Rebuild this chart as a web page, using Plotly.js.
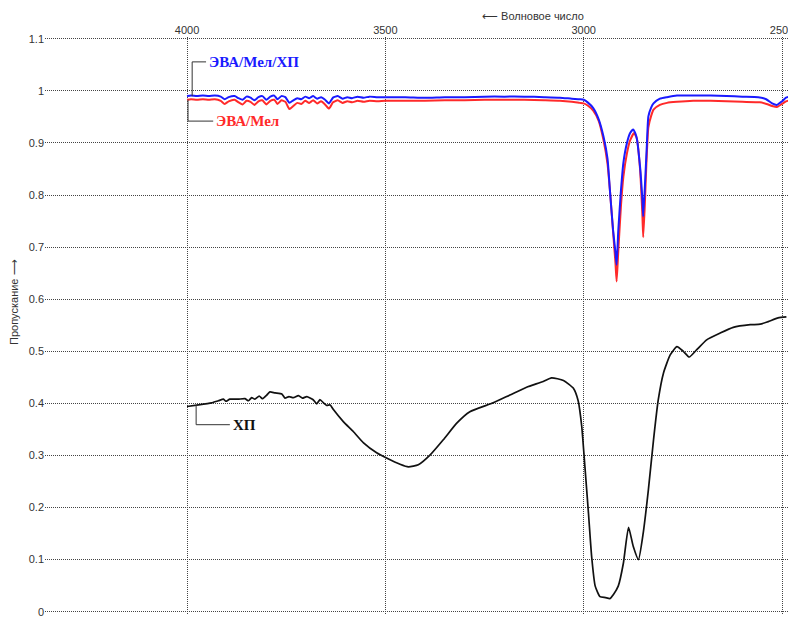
<!DOCTYPE html>
<html>
<head>
<meta charset="utf-8">
<script src="https://cdn.plot.ly/plotly-3.0.1.min.js"></script>
<style>html,body{margin:0;padding:0;background:#fff;overflow:hidden;}#chart{width:788px;height:617px;}</style>
</head>
<body>
<div id="chart"></div>
<script>
// ЭВА/Мел/ХП (blue)
const wnBlue = [4000,3990,3975,3960,3945,3930,3915,3905,3895,3880,3870,3860,3850,3840,3830,3820,3810,3800,3790,3780,3772,3762,3752,3742,3732,3722,3712,3702,3692,3682,3672,3662,3652,3642,3632,3620,3608,3596,3584,3570,3555,3540,3520,3500,3450,3400,3350,3300,3250,3200,3150,3100,3060,3030,3010,3000,2990,2976,2962,2950,2940,2934,2926,2920,2917,2913,2906,2900,2891,2883,2875,2867,2858,2852,2850,2845,2841,2837,2830,2824,2808,2790,2765,2720,2680,2640,2600,2560,2540,2525,2513,2500,2490,2481];
const tBlue  = [0.990,0.991,0.990,0.991,0.990,0.991,0.989,0.984,0.988,0.990,0.986,0.983,0.989,0.987,0.982,0.988,0.990,0.983,0.989,0.991,0.984,0.990,0.988,0.977,0.982,0.986,0.984,0.989,0.986,0.990,0.985,0.988,0.983,0.976,0.987,0.990,0.985,0.988,0.986,0.989,0.987,0.989,0.988,0.988,0.988,0.987,0.988,0.988,0.989,0.989,0.989,0.988,0.987,0.985,0.984,0.983,0.978,0.967,0.945,0.912,0.870,0.810,0.733,0.690,0.666,0.730,0.810,0.862,0.900,0.919,0.926,0.912,0.855,0.790,0.759,0.829,0.893,0.951,0.968,0.976,0.985,0.988,0.991,0.991,0.991,0.990,0.989,0.988,0.984,0.976,0.973,0.980,0.987,0.989];

// ЭВА/Мел (red)
const wnRed = [4000,3990,3975,3960,3945,3930,3915,3905,3895,3880,3870,3860,3850,3840,3830,3820,3810,3800,3790,3780,3772,3762,3752,3742,3732,3722,3712,3702,3692,3682,3672,3662,3652,3642,3632,3620,3608,3596,3584,3570,3555,3540,3520,3500,3450,3400,3350,3300,3250,3200,3150,3100,3060,3030,3010,3000,2990,2976,2962,2950,2940,2934,2926,2920,2917,2913,2906,2900,2891,2883,2873,2866,2858,2852,2850,2846,2842,2837,2830,2824,2808,2790,2765,2724,2680,2640,2600,2556,2539,2525,2513,2500,2490,2481];
const tRed   = [0.983,0.984,0.983,0.984,0.983,0.984,0.981,0.975,0.980,0.983,0.978,0.974,0.981,0.979,0.973,0.980,0.982,0.974,0.981,0.983,0.975,0.982,0.979,0.965,0.971,0.977,0.975,0.981,0.977,0.982,0.976,0.980,0.974,0.966,0.978,0.982,0.977,0.980,0.978,0.981,0.979,0.981,0.980,0.981,0.981,0.981,0.982,0.982,0.983,0.983,0.983,0.982,0.981,0.979,0.977,0.976,0.972,0.962,0.942,0.905,0.860,0.810,0.730,0.670,0.634,0.690,0.780,0.835,0.880,0.905,0.919,0.908,0.850,0.760,0.719,0.780,0.860,0.930,0.952,0.964,0.973,0.977,0.979,0.981,0.981,0.980,0.979,0.978,0.975,0.971,0.969,0.975,0.980,0.982];

// ХП (black)
const wnCP = [4000,3971,3938,3921,3908,3902,3892,3871,3854,3845,3837,3829,3818,3810,3799,3791,3778,3761,3753,3743,3732,3719,3709,3698,3682,3673,3665,3656,3648,3639,3631,3606,3581,3555,3522,3497,3463,3442,3417,3387,3354,3320,3287,3228,3186,3144,3102,3081,3051,3026,3014,3005,2997,2988,2980,2971,2959,2945,2934,2925,2913,2900,2887,2875,2862,2850,2837,2824,2812,2799,2782,2765,2749,2734,2715,2690,2656,2623,2580,2555,2535,2510,2489];
const tCP  = [0.394,0.397,0.401,0.405,0.408,0.404,0.408,0.408,0.409,0.405,0.411,0.408,0.414,0.409,0.416,0.422,0.420,0.418,0.410,0.413,0.411,0.415,0.410,0.413,0.407,0.399,0.407,0.401,0.396,0.397,0.388,0.365,0.346,0.324,0.305,0.295,0.283,0.278,0.282,0.301,0.330,0.362,0.384,0.401,0.416,0.431,0.442,0.449,0.444,0.429,0.405,0.356,0.279,0.189,0.106,0.049,0.029,0.027,0.025,0.033,0.049,0.093,0.162,0.125,0.100,0.151,0.234,0.330,0.407,0.458,0.493,0.509,0.500,0.489,0.503,0.522,0.535,0.546,0.551,0.552,0.557,0.564,0.566];

const xTicks = [4000,3500,3000,2500];
const yTicks = [0,0.1,0.2,0.3,0.4,0.5,0.6,0.7,0.8,0.9,1,1.1];

const traces = [
  {x: wnCP, y: tCP, mode:'lines', line:{color:'#111111', width:1.7, shape:'spline', smoothing:0.5}, hoverinfo:'skip'},
  {x: wnRed, y: tRed, mode:'lines', line:{color:'#ff2a2a', width:2, shape:'spline', smoothing:0.5}, hoverinfo:'skip'},
  {x: wnBlue, y: tBlue, mode:'lines', line:{color:'#1a1aff', width:2, shape:'spline', smoothing:0.5}, hoverinfo:'skip'}
];

const lead = {type:'path', xref:'x', yref:'y', line:{color:'#333', width:1}};
const layout = {
  width:788, height:617,
  margin:{l:45, r:0, t:37, b:3},
  paper_bgcolor:'#fff', plot_bgcolor:'#fff',
  showlegend:false,
  font:{family:'Liberation Sans, Arial, sans-serif', size:11, color:'#333'},
  xaxis:{
    side:'top', range:[4358,2485], tickvals:xTicks, ticks:'',
    showgrid:true, gridcolor:'#444', griddash:'1px,1px', gridwidth:1,
    zeroline:false, showline:false, ticklabeloverflow:'allow', automargin:false,
    tickfont:{family:'Liberation Sans, Arial, sans-serif', size:11, color:'#333'}
  },
  yaxis:{
    range:[-0.0045,1.1035], tickvals:yTicks, ticks:'',
    showgrid:true, gridcolor:'#444', griddash:'1px,1px', gridwidth:1,
    zeroline:false, showline:false, ticklabelstandoff:0, ticklabeloverflow:'allow', automargin:false,
    tickfont:{family:'Liberation Sans, Arial, sans-serif', size:11, color:'#333'}
  },
  shapes:[
    Object.assign({}, lead, {path:'M 3987 0.990 L 3987 1.0557 L 3952 1.0557'}),
    Object.assign({}, lead, {path:'M 3997.5 0.983 L 3997.5 0.942 L 3934 0.942'}),
    Object.assign({}, lead, {path:'M 3977 0.397 L 3977 0.359 L 3892 0.359'})
  ],
  annotations:[
    {x:3950, y:1.0557, xref:'x', yref:'y', xanchor:'left', yanchor:'middle', showarrow:false,
     text:'<b>ЭВА/Мел/ХП</b>', font:{family:'Liberation Serif, Times New Roman, serif', size:15, color:'#1a1aff'}},
    {x:3932, y:0.942, xref:'x', yref:'y', xanchor:'left', yanchor:'middle', showarrow:false,
     text:'<b>ЭВА/Мел</b>', font:{family:'Liberation Serif, Times New Roman, serif', size:15, color:'#ff2a2a'}},
    {x:3890, y:0.359, xref:'x', yref:'y', xanchor:'left', yanchor:'middle', showarrow:false,
     text:'<b>ХП</b>', font:{family:'Liberation Serif, Times New Roman, serif', size:15, color:'#111'}},
    {x:(480-45)/743, y:(614-16)/577, xref:'paper', yref:'paper', xanchor:'left', yanchor:'middle', showarrow:false,
     text:'⟵ Волновое число', font:{family:'Liberation Sans, Arial, sans-serif', size:11, color:'#333'}},
    {x:(14-45)/743, y:(614-302)/577, xref:'paper', yref:'paper', xanchor:'center', yanchor:'middle', showarrow:false,
     textangle:-90, text:'Пропускание ⟶', font:{family:'Liberation Sans, Arial, sans-serif', size:11, color:'#333'}}
  ]
};

Plotly.newPlot('chart', traces, layout, {displayModeBar:false, staticPlot:true});
</script>
</body>
</html>
